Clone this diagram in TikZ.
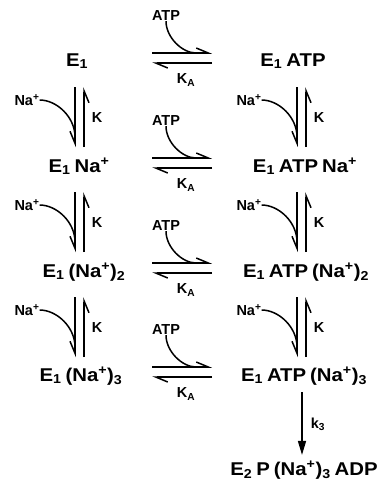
\documentclass[tikz,border=0pt]{standalone}
\usepackage{fontspec}
\setmainfont{Liberation Sans}
\newfontfamily\widesans{Liberation Sans}[FakeStretch=1.1]
\usetikzlibrary{arrows.meta,positioning}

\begin{document}
\begin{tikzpicture}[x=1pt, y=-1pt,
    species/.style={font={\widesans\bfseries\fontsize{18.5}{22}\selectfont\spaceskip=4pt\relax}, inner sep=0pt, anchor=base},
    small/.style={font=\bfseries\fontsize{14.5}{17}\selectfont, inner sep=0pt},
    feed/.style={line width=1.5pt},
    harp/.style={feed, -{Straight Barb[left, length=12pt, width=10pt]}},
    harpv/.style={feed, -{Straight Barb[right, length=12pt, width=10pt]}},
    irr/.style={feed, -{Triangle[length=14pt, width=8pt]}}
  ]
  \useasboundingbox (0,0) rectangle (382,496);
  % left column
  \node[species] (e1) at (77,66) {E\textsubscript{1}};
  \node[species] (e1na) at (79,172) {E\textsubscript{1} Na\textsuperscript{+}};
  \node[species] (e1na2) at (84,277) {E\textsubscript{1} (Na\textsuperscript{+})\textsubscript{2}};
  \node[species] (e1na3) at (81,381) {E\textsubscript{1} (Na\textsuperscript{+})\textsubscript{3}};
  % right column
  \node[species] (e1atp) at (293,66) {E\textsubscript{1} ATP};
  \node[species] (e1atpna) at (305,172) {E\textsubscript{1} ATP Na\textsuperscript{+}};
  \node[species] (e1atpna2) at (306,277) {E\textsubscript{1} ATP (Na\textsuperscript{+})\textsubscript{2}};
  \node[species] (e1atpna3) at (304,381) {E\textsubscript{1} ATP (Na\textsuperscript{+})\textsubscript{3}};
  \node[species] (e2p) at (304,475) {E\textsubscript{2} P (Na\textsuperscript{+})\textsubscript{3} ADP};

  % ATP binding
  \foreach \y [count=\n] in {58,163,268,372} {
    \coordinate (eq\n) at (182,\y);
    \draw[harp] ([shift={(-30,-5)}]eq\n) -- ([shift={(30,-5)}]eq\n);
    \draw[harp] ([shift={(30,5)}]eq\n) -- ([shift={(-30,5)}]eq\n);
    \node[small] (atp\n) at ([shift={(-16,-42)}]eq\n) {ATP};
    \draw[feed] (atp\n.south) .. controls +(0,16) and +(-14,0) .. ([shift={(14,-5)}]eq\n);
    \node[small] (ka\n) at ([shift={(4,22)}]eq\n) {K\textsubscript{A}};
  }

  % Na+ binding
  \foreach \x/\c in {75/l,297/r}
    \foreach \t [count=\n] in {87,192,297} {
      \coordinate (top\c\n) at (\x,\t);
      \draw[harpv] (top\c\n) -- ++(0,60);
      \draw[harpv] ([shift={(9,60)}]top\c\n) -- ++(0,-60);
      \node[small] (na\c\n) at ([shift={(-48,13)}]top\c\n) {Na\textsuperscript{+}};
      \draw[feed] (na\c\n.east) .. controls +(17,0) and +(0,-20) .. ([shift={(0,50)}]top\c\n);
      \node[small] (k\c\n) at ([shift={(22,31)}]top\c\n) {K};
    }

  % phosphorylation
  \draw[irr] ([xshift=-2pt, yshift=-7pt]e1atpna3.south) -- ([xshift=-2pt, yshift=6pt]e2p.north);
  \node[small] (k3) at (318,424) {k\textsubscript{3}};
\end{tikzpicture}
\end{document}
